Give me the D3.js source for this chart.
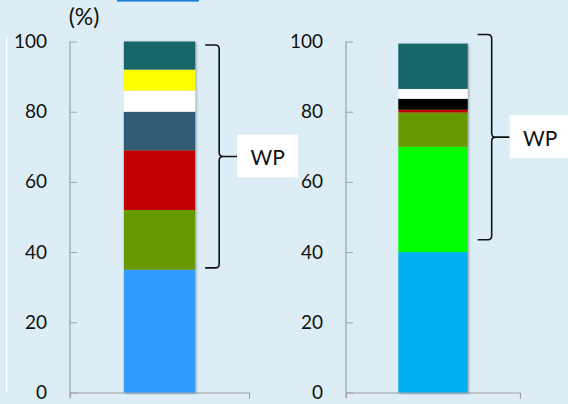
<!DOCTYPE html>
<html>
<head>
<meta charset="utf-8">
<script src="https://cdn.jsdelivr.net/npm/d3@7"></script>
<style>
  html, body { margin: 0; padding: 0; background: #ddedf6; }
  svg { display: block; font-family: Lato, "Open Sans", sans-serif; }
</style>
</head>
<body>
<svg id="chart" width="568" height="404"></svg>
<script>
// ---- data ----
const yTicks = [0, 20, 40, 60, 80, 100];
const unitLabel = "(%)";
const braceLabel = "WP";

const leftCategory = ["A"];
const leftSegments = ["s1", "s2", "s3", "s4", "s5", "s6", "s7"];
const leftValues = [35, 17, 17, 11, 6, 6, 8];
const leftColors = ["#3399ff", "#669900", "#c00000", "#335b74", "#ffffff", "#ffff00", "#17666a"];
const leftBrace = [35.5, 99];

const rightCategory = ["B"];
const rightSegments = ["s1", "s2", "s3", "s4", "s5", "s6", "s7"];
const rightValues = [40, 30, 9.8, 0.8, 3.1, 2.8, 12.9];
const rightColors = ["#00b0f0", "#00ff00", "#669900", "#c00000", "#000000", "#ffffff", "#17666a"];
const rightBrace = [43.5, 102];

// ---- layout ----
const svg = d3.select("#chart");
const yTop = 41.5, yBot = 392.5;
const y = d3.scaleLinear().domain([0, 100]).range([yBot, yTop]);
const axisColor = "#a0a0a0";

const defs = svg.append("defs");
const f = defs.append("filter").attr("id", "shadow")
  .attr("x", "-20%").attr("y", "-5%").attr("width", "140%").attr("height", "110%");
f.append("feDropShadow").attr("dx", 1.2).attr("dy", 0.8).attr("stdDeviation", 1.3)
  .attr("flood-color", "#000").attr("flood-opacity", 0.35);

// top blue line & white left line
svg.append("rect").attr("x", 117).attr("y", 0).attr("width", 82).attr("height", 1.6).attr("fill", "#1a7fd8");
svg.append("rect").attr("x", 6).attr("y", 37).attr("width", 1.4).attr("height", 355).attr("fill", "#ffffff");

function panel(x0, x1, category, segments, values, colors, brace) {
  const g = svg.append("g");
  const x = d3.scaleBand().domain(category).range([x0, x1]).paddingInner(0.43).paddingOuter(0.43);

  // y axis
  const ya = g.append("g").attr("transform", `translate(${x0},0)`)
    .call(d3.axisLeft(y).tickValues(yTicks).tickSizeInner(-7).tickSizeOuter(0).tickPadding(23));
  ya.attr("font-size", 19).attr("font-family", "Lato, 'Open Sans', sans-serif");
  ya.select(".domain").remove();
  ya.selectAll(".tick line").attr("stroke", axisColor);
  ya.selectAll(".tick text").attr("fill", "#111");
  g.append("line").attr("x1", x0).attr("x2", x0).attr("y1", yTop).attr("y2", yBot + 5)
    .attr("stroke", axisColor).attr("stroke-width", 1.2);

  // x axis
  const xa = g.append("g").attr("transform", `translate(0,${yBot})`)
    .call(d3.axisBottom(x).tickValues([]).tickSizeOuter(6));
  xa.select(".domain").attr("stroke", axisColor).attr("stroke-width", 1.2);

  // stacked bar
  const row = {};
  segments.forEach((s, i) => row[s] = values[i]);
  row.cat = category[0];
  const stack = d3.stack().keys(segments)([row]);
  const color = d3.scaleOrdinal().domain(segments).range(colors);
  const barG = g.append("g").attr("filter", "url(#shadow)");
  barG.selectAll("rect").data(stack).join("rect")
    .attr("x", d => x(d[0].data.cat))
    .attr("width", x.bandwidth())
    .attr("y", d => y(d[0][1]))
    .attr("height", d => y(d[0][0]) - y(d[0][1]))
    .attr("fill", d => color(d.key));

  // brace
  const bx = x(category[0]) + x.bandwidth() + 10;
  const vx = bx + 14;
  const yt = y(brace[1]), yb = y(brace[0]), ym = (yt + yb) / 2;
  const tip = vx + 18;
  const p = d3.path();
  p.moveTo(bx, yt);
  p.lineTo(vx - 4, yt);
  p.quadraticCurveTo(vx, yt, vx, yt + 4);
  p.lineTo(vx, ym - 4);
  p.quadraticCurveTo(vx, ym, vx + 4, ym);
  p.quadraticCurveTo(vx, ym, vx, ym + 4);
  p.lineTo(vx, yb - 4);
  p.quadraticCurveTo(vx, yb, vx - 4, yb);
  p.lineTo(bx, yb);
  p.moveTo(vx + 4, ym);
  p.lineTo(tip, ym);
  g.append("path").attr("d", p.toString()).attr("fill", "none")
    .attr("stroke", "#111").attr("stroke-width", 1.6);

  g.append("rect").attr("x", tip).attr("y", ym - 22).attr("width", 61).attr("height", 43)
    .attr("fill", "#ffffff");
  g.append("text").attr("x", tip + 30.5).attr("y", ym).attr("text-anchor", "middle")
    .attr("dominant-baseline", "central").attr("font-size", 21).attr("fill", "#111")
    .text(braceLabel);
}

panel(70, 249, leftCategory, leftSegments, leftValues, leftColors, leftBrace);
panel(346, 520, rightCategory, rightSegments, rightValues, rightColors, rightBrace);

// unit label, drawn last on top
svg.append("text").attr("x", 84).attr("y", 25).attr("text-anchor", "middle")
  .attr("font-size", 23).attr("font-family", "Lato, 'Open Sans', sans-serif")
  .attr("fill", "#111")
  .text(unitLabel);
</script>
</body>
</html>
